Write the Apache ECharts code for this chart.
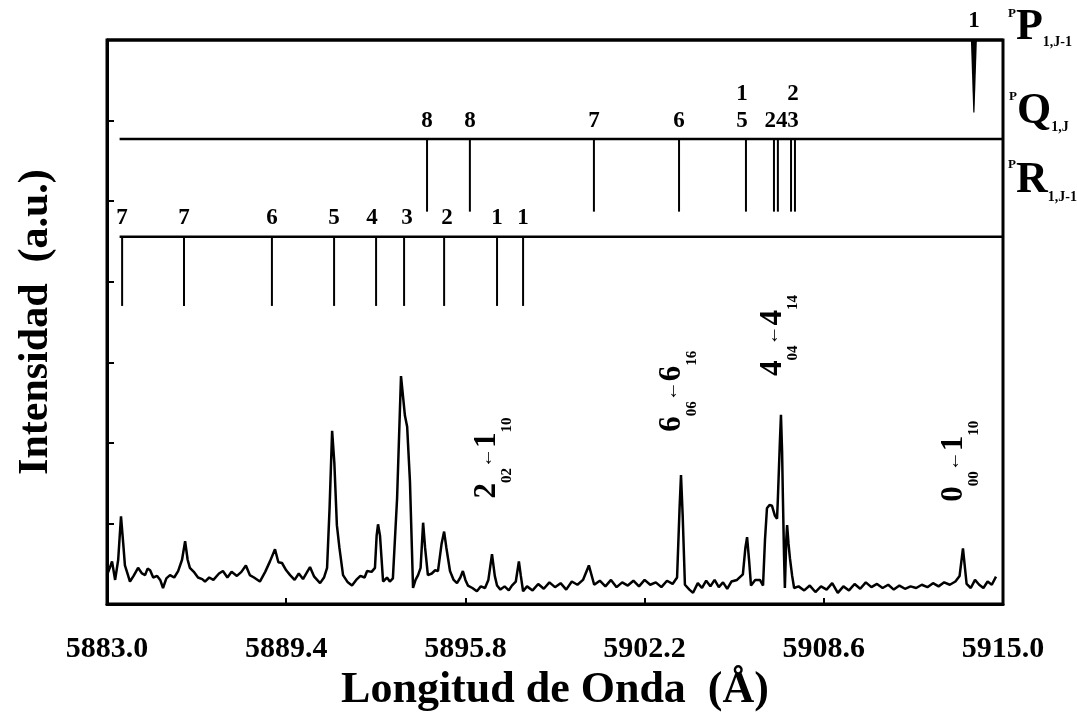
<!DOCTYPE html>
<html>
<head>
<meta charset="utf-8">
<script src="https://cdn.jsdelivr.net/npm/echarts@6/dist/echarts.min.js"></script>
<style>
html, body { margin: 0; padding: 0; background: #fff; }
#main { width: 1077px; height: 718px; }
</style>
</head>
<body>
<div id="main"></div>
<script>
// eje x: longitud de onda (Å)
const xTicks = [5883.0, 5889.4, 5895.8, 5902.2, 5908.6, 5915.0];

// espectro medido
const specX = [
  5883.00, 5883.10, 5883.18, 5883.29, 5883.40, 5883.50, 5883.58, 5883.64, 5883.73, 5883.82,
  5883.95, 5884.11, 5884.25, 5884.36, 5884.45, 5884.54, 5884.65, 5884.79, 5884.90, 5885.00,
  5885.12, 5885.25, 5885.40, 5885.54, 5885.68, 5885.79, 5885.88, 5885.96, 5886.10, 5886.25,
  5886.40, 5886.50, 5886.65, 5886.80, 5887.00, 5887.14, 5887.30, 5887.45, 5887.64, 5887.80,
  5887.96, 5888.10, 5888.25, 5888.46, 5888.65, 5888.82, 5889.00, 5889.12, 5889.25, 5889.40,
  5889.54, 5889.70, 5889.85, 5890.00, 5890.15, 5890.25, 5890.40, 5890.61, 5890.75, 5890.86,
  5890.95, 5891.04, 5891.12, 5891.21, 5891.30, 5891.43, 5891.60, 5891.75, 5891.90, 5892.05,
  5892.20, 5892.29, 5892.45, 5892.57, 5892.63, 5892.68, 5892.75, 5892.86, 5893.00, 5893.10,
  5893.21, 5893.36, 5893.50, 5893.58, 5893.64, 5893.72, 5893.82, 5893.93, 5894.02, 5894.11,
  5894.20, 5894.29, 5894.36, 5894.46, 5894.60, 5894.72, 5894.82, 5894.95, 5895.04, 5895.12,
  5895.25, 5895.38, 5895.50, 5895.62, 5895.71, 5895.80, 5895.89, 5896.05, 5896.21, 5896.35,
  5896.50, 5896.62, 5896.75, 5896.85, 5896.93, 5897.05, 5897.20, 5897.35, 5897.46, 5897.60,
  5897.71, 5897.78, 5897.86, 5898.00, 5898.20, 5898.40, 5898.60, 5898.80, 5899.00, 5899.20,
  5899.40, 5899.60, 5899.80, 5900.00, 5900.21, 5900.40, 5900.60, 5900.80, 5901.00, 5901.20,
  5901.40, 5901.60, 5901.80, 5902.00, 5902.20, 5902.40, 5902.60, 5902.80, 5903.00, 5903.20,
  5903.36, 5903.45, 5903.50, 5903.56, 5903.64, 5903.80, 5903.93, 5904.10, 5904.25, 5904.40,
  5904.55, 5904.70, 5904.85, 5905.00, 5905.15, 5905.30, 5905.50, 5905.71, 5905.80, 5905.86,
  5905.93, 5906.00, 5906.15, 5906.32, 5906.43, 5906.50, 5906.57, 5906.66, 5906.75, 5906.85,
  5906.93, 5906.96, 5907.03, 5907.07, 5907.11, 5907.14, 5907.18, 5907.21, 5907.26, 5907.29,
  5907.34, 5907.39, 5907.47, 5907.54, 5907.70, 5907.90, 5908.10, 5908.30, 5908.50, 5908.70,
  5908.90, 5909.10, 5909.30, 5909.50, 5909.70, 5909.90, 5910.10, 5910.30, 5910.50, 5910.70,
  5910.90, 5911.10, 5911.30, 5911.50, 5911.70, 5911.90, 5912.10, 5912.30, 5912.50, 5912.70,
  5912.90, 5913.10, 5913.30, 5913.45, 5913.57, 5913.70, 5913.85, 5914.00, 5914.15, 5914.30,
  5914.45, 5914.60, 5914.75
];
const specY = [
  0.36, 0.45, 0.53, 0.30, 0.55, 1.09, 0.75, 0.48, 0.38, 0.28,
  0.35, 0.45, 0.38, 0.36, 0.44, 0.42, 0.33, 0.35, 0.30, 0.20,
  0.32, 0.36, 0.33, 0.41, 0.55, 0.78, 0.55, 0.45, 0.40, 0.33,
  0.31, 0.28, 0.33, 0.30, 0.38, 0.41, 0.33, 0.40, 0.35, 0.40,
  0.48, 0.36, 0.33, 0.28, 0.40, 0.53, 0.68, 0.52, 0.51, 0.42,
  0.36, 0.30, 0.38, 0.31, 0.40, 0.46, 0.34, 0.26, 0.33, 0.45,
  1.20, 2.15, 1.75, 0.98, 0.70, 0.36, 0.27, 0.23, 0.30, 0.35,
  0.33, 0.41, 0.40, 0.45, 0.85, 0.99, 0.85, 0.28, 0.33, 0.28,
  0.32, 1.31, 2.83, 2.55, 2.34, 2.20, 1.52, 0.20, 0.30, 0.36,
  0.45, 1.01, 0.70, 0.36, 0.38, 0.42, 0.41, 0.75, 0.90, 0.70,
  0.41, 0.30, 0.26, 0.33, 0.41, 0.30, 0.23, 0.20, 0.16, 0.22,
  0.20, 0.30, 0.62, 0.35, 0.23, 0.18, 0.22, 0.17, 0.23, 0.28,
  0.53, 0.35, 0.16, 0.22, 0.17, 0.25, 0.19, 0.27, 0.21, 0.26,
  0.18, 0.28, 0.24, 0.30, 0.48, 0.24, 0.29, 0.22, 0.30, 0.21,
  0.27, 0.23, 0.29, 0.22, 0.30, 0.24, 0.27, 0.21, 0.29, 0.25,
  0.33, 1.20, 1.60, 1.10, 0.24, 0.18, 0.14, 0.26, 0.20, 0.29,
  0.22, 0.30, 0.21, 0.27, 0.19, 0.28, 0.30, 0.37, 0.70, 0.83,
  0.55, 0.23, 0.30, 0.30, 0.23, 0.80, 1.19, 1.23, 1.22, 1.10,
  1.06, 1.31, 2.00, 2.35, 1.90, 1.31, 0.60, 0.20, 0.80, 0.98,
  0.75, 0.57, 0.35, 0.20, 0.22, 0.17, 0.23, 0.15, 0.22, 0.18,
  0.26, 0.14, 0.22, 0.17, 0.25, 0.19, 0.27, 0.21, 0.25, 0.20,
  0.24, 0.18, 0.23, 0.19, 0.22, 0.20, 0.24, 0.21, 0.26, 0.22,
  0.27, 0.24, 0.28, 0.35, 0.69, 0.25, 0.20, 0.30, 0.24, 0.20,
  0.28, 0.24, 0.34
];

// ramas: nivel de la línea base, fin de los palitos
const branchNames = ['P', 'Q', 'R'];
const branchLevel = [7.0, 5.77, 4.56];
const branchEnd = [6.10, 4.87, 3.70];
const branchStart = [5883.0, 5883.45, 5883.45];

// posiciones de las transiciones (Å)
const ppSticks = [5913.96];
const pqSticks = [5894.43, 5895.96, 5900.39, 5903.43, 5905.82, 5906.82, 5906.96, 5907.43, 5907.57];
const prSticks = [5883.54, 5885.75, 5888.89, 5891.11, 5892.61, 5893.61, 5895.04, 5896.93, 5897.86];

// etiquetas J sobre cada rama
const ppTagX = [5913.96];
const ppTags = ['1'];
const pqTagX = [5894.43, 5895.96, 5900.39, 5903.43, 5905.68, 5906.89, 5907.50];
const pqTags = ['8', '8', '7', '6', '1\n5', '24', '2\n3'];
const prTagX = [5883.54, 5885.75, 5888.89, 5891.11, 5892.46, 5893.71, 5895.14, 5896.93, 5897.86];
const prTags = ['7', '7', '6', '5', '4', '3', '2', '1', '1'];

// asignaciones de las bandas
const annoX = [5896.02, 5902.62, 5906.23, 5912.69];
const annoY = [1.31, 2.14, 2.83, 1.27];
const annoText = [
  '{m|2}{s|02}{a|←}{m|1}{s|10}',
  '{m|6}{s|06}{a|←}{m|6}{s|16}',
  '{m|4}{s|04}{a|←}{m|4}{s|14}',
  '{m|0}{s|00}{a|←}{m|1}{s|10}'
];

const serif = '"Liberation Serif", "DejaVu Serif", serif';

const sticks = [];
[ppSticks, pqSticks, prSticks].forEach((arr, b) => {
  arr.forEach(x => sticks.push([x, branchLevel[b], branchEnd[b], b === 0 ? 1 : 0]));
});
const tags = [];
const tagText = [];
[[ppTagX, ppTags], [pqTagX, pqTags], [prTagX, prTags]].forEach((pair, b) => {
  pair[0].forEach((x, i) => {
    tags.push([x, branchLevel[b]]);
    tagText.push(pair[1][i]);
  });
});
const levels = branchLevel.map((y, i) => [branchStart[i], 5915.0, y]);

const branchRich = {
  s: { fontFamily: serif, fontWeight: 'bold', fontSize: 13, verticalAlign: 'top', fill: '#000' },
  b: { fontFamily: serif, fontWeight: 'bold', fontSize: 44, fill: '#000' },
  u: { fontFamily: serif, fontWeight: 'bold', fontSize: 14, verticalAlign: 'bottom', fill: '#000' }
};

const chart = echarts.init(document.getElementById('main'));
chart.setOption({
  animation: false,
  backgroundColor: '#fff',
  grid: {
    left: 107, right: 74, top: 40, bottom: 112,
    show: true, borderColor: '#000', borderWidth: 3
  },
  xAxis: {
    type: 'value', min: 5883.0, max: 5915.0,
    name: 'Longitud de Onda  (Å)', nameLocation: 'middle', nameGap: 62,
    nameTextStyle: { color: '#000', fontFamily: serif, fontWeight: 'bold', fontSize: 44 },
    axisLine: { lineStyle: { color: '#000', width: 3 } },
    axisTick: { inside: true, length: 6, lineStyle: { color: '#000', width: 2 }, customValues: xTicks },
    axisLabel: {
      customValues: xTicks, margin: 30, color: '#000',
      fontFamily: serif, fontWeight: 'bold', fontSize: 30,
      formatter: v => v.toFixed(1)
    },
    splitLine: { show: false }
  },
  yAxis: {
    type: 'value', min: 0, max: 7, interval: 1,
    name: 'Intensidad  (a.u.)', nameLocation: 'middle', nameGap: 50, nameRotate: 90,
    nameTextStyle: { color: '#000', fontFamily: serif, fontWeight: 'bold', fontSize: 42 },
    axisLine: { lineStyle: { color: '#000', width: 3 } },
    axisTick: { inside: true, length: 7, lineStyle: { color: '#000', width: 2 } },
    axisLabel: { show: false },
    splitLine: { show: false }
  },
  graphic: [
    {
      type: 'text', left: 1008, top: 6,
      style: { text: '{s|P}{b|P}{u|1,J-1}', lineHeight: 42, rich: branchRich }
    },
    {
      type: 'text', left: 1009, top: 90,
      style: { text: '{s|P}{b|Q}{u|1,J}', lineHeight: 44, rich: branchRich }
    },
    {
      type: 'text', left: 1008, top: 158,
      style: { text: '{s|P}{b|R}{u|1,J-1}', lineHeight: 46, rich: branchRich }
    }
  ],
  series: [
    {
      type: 'line',
      data: specX.map((x, i) => [x, specY[i]]),
      showSymbol: false,
      lineStyle: { color: '#000', width: 2.5 },
      z: 3
    },
    {
      // líneas base de cada rama
      type: 'custom',
      data: levels,
      renderItem: (params, api) => {
        const a = api.coord([api.value(0), api.value(2)]);
        const b = api.coord([api.value(1), api.value(2)]);
        return {
          type: 'line',
          shape: { x1: a[0], y1: a[1], x2: b[0], y2: b[1] },
          style: { stroke: '#000', lineWidth: params.dataIndex === 0 ? 3 : 2.5 }
        };
      }
    },
    {
      // palitos de las transiciones
      type: 'custom',
      data: sticks,
      encode: { x: 0, y: [1, 2] },
      renderItem: (params, api) => {
        const t = api.coord([api.value(0), api.value(1)]);
        const e = api.coord([api.value(0), api.value(2)]);
        if (api.value(3)) {
          return {
            type: 'polygon',
            shape: { points: [[t[0] - 3, t[1]], [t[0] + 3, t[1]], [e[0] + 0.6, e[1]], [e[0] - 0.6, e[1]]] },
            style: { fill: '#000' }
          };
        }
        return {
          type: 'line',
          shape: { x1: t[0], y1: t[1], x2: e[0], y2: e[1] },
          style: { stroke: '#000', lineWidth: 2 }
        };
      }
    },
    {
      // números J
      type: 'custom',
      data: tags,
      renderItem: (params, api) => {
        const p = api.coord([api.value(0), api.value(1)]);
        return {
          type: 'text', x: p[0], y: p[1] - 5,
          style: {
            text: tagText[params.dataIndex], fill: '#000',
            fontFamily: serif, fontWeight: 'bold', fontSize: 23, lineHeight: 27,
            align: 'center', verticalAlign: 'bottom'
          }
        };
      }
    },
    {
      // asignaciones rotadas
      type: 'custom',
      data: annoX.map((x, i) => [x, annoY[i]]),
      renderItem: (params, api) => {
        const p = api.coord([api.value(0), api.value(1)]);
        return {
          type: 'text', x: p[0], y: p[1], rotation: Math.PI / 2,
          style: {
            text: annoText[params.dataIndex],
            align: 'left', verticalAlign: 'top', lineHeight: 43,
            rich: {
              m: { fontFamily: serif, fontWeight: 'bold', fontSize: 31, verticalAlign: 'top', fill: '#000' },
              a: { fontFamily: serif, fontWeight: 'bold', fontSize: 20, height: 31, verticalAlign: 'top', fill: '#000' },
              s: { fontFamily: serif, fontWeight: 'bold', fontSize: 15, verticalAlign: 'bottom', fill: '#000' }
            }
          }
        };
      }
    }
  ]
});
</script>
</body>
</html>
